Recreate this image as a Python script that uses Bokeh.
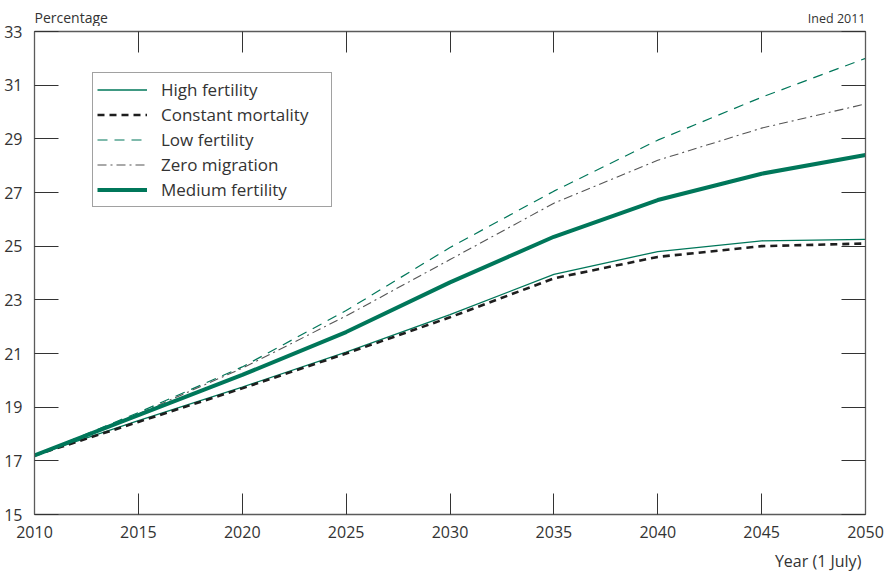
from bokeh.plotting import figure
from bokeh.layouts import column
from bokeh.models import (Range1d, LinearAxis, FixedTicker, Legend, LegendItem)
from bokeh.core.properties import value
from bokeh.embed import file_html
from bokeh.resources import INLINE

years = [2010, 2015, 2020, 2025, 2030, 2035, 2040, 2045, 2050]
high_fertility = [17.2, 18.5, 19.75, 21.05, 22.45, 23.95, 24.8, 25.2, 25.25]
constant_mortality = [17.2, 18.45, 19.7, 21.0, 22.35, 23.8, 24.6, 25.0, 25.1]
low_fertility = [17.2, 18.8, 20.5, 22.6, 24.95, 27.05, 28.95, 30.55, 32.0]
zero_migration = [17.2, 18.75, 20.45, 22.4, 24.5, 26.6, 28.2, 29.4, 30.3]
medium_fertility = [17.2, 18.7, 20.2, 21.8, 23.65, 25.35, 26.72, 27.7, 28.4]

x_ticks = [2010, 2015, 2020, 2025, 2030, 2035, 2040, 2045, 2050]
y_ticks = [15, 17, 19, 21, 23, 25, 27, 29, 31, 33]

FONT = "Open Sans"
GREEN = "#00775a"
AXIS = "#5a5a5a"
TEXT = "#333333"
W = 889
BL, BR = 34, 24


def strip(height, margin):
    f = figure(width=W, height=height, output_backend="svg", toolbar_location=None,
               x_range=Range1d(2010, 2050), y_range=Range1d(0, 1),
               x_axis_location=None, y_axis_location=None,
               min_border_left=BL, min_border_right=BR, min_border_top=0, min_border_bottom=0,
               margin=margin)
    f.outline_line_color = None
    f.xgrid.visible = False
    f.ygrid.visible = False
    f.background_fill_color = None
    f.border_fill_color = None
    return f


# --- header strip: "Percentage" and "Ined 2011" ---
head = strip(26, (0, 0, -12, 0))
head.text(x=[2010], y=[0.35], text=["Percentage"], text_font=value(FONT), text_font_size="14px",
          text_color=TEXT, text_align="left", text_baseline="middle")
head.text(x=[2050], y=[0.32], text=["Ined 2011"], text_font=value(FONT), text_font_size="12.5px",
          text_color=TEXT, text_align="right", text_baseline="middle")

# --- main chart ---
p = figure(width=W, height=535, output_backend="svg", toolbar_location=None,
           x_range=head.x_range, y_range=Range1d(15, 33),
           x_axis_location=None, y_axis_location=None,
           min_border_left=BL, min_border_right=BR, min_border_top=17, min_border_bottom=35)
p.outline_line_color = None
p.xgrid.visible = False
p.ygrid.visible = False
p.border_fill_color = None
p.background_fill_color = "white"


def style_axis(ax, ticks, labels=True, tick_len=22):
    ax.ticker = FixedTicker(ticks=ticks)
    ax.axis_line_color = AXIS
    ax.axis_line_width = 1.3
    ax.major_tick_in = tick_len
    ax.major_tick_out = 0
    ax.major_tick_line_color = "#333333"
    ax.major_tick_line_width = 1
    ax.minor_tick_line_color = None
    if labels:
        ax.major_label_text_font = FONT
        ax.major_label_text_font_size = "16px"
        ax.major_label_text_color = TEXT
    else:
        ax.major_label_text_color = None
        ax.major_label_text_font_size = "1px"
        ax.major_label_standoff = 0


left = LinearAxis()
style_axis(left, y_ticks, True, 24)
left.major_label_standoff = 12
p.add_layout(left, "left")

right = LinearAxis()
style_axis(right, y_ticks, False, 24)
p.add_layout(right, "right")

bottom = LinearAxis()
style_axis(bottom, x_ticks, True, 21)
bottom.major_label_standoff = 11
p.add_layout(bottom, "below")

top = LinearAxis()
style_axis(top, x_ticks, False, 21)
p.add_layout(top, "above")

r_high = p.line(years, high_fertility, line_color=GREEN, line_width=1.3)
r_cm = p.line(years, constant_mortality, line_color="#1e1e1e", line_width=2.6, line_dash="7 5")
r_low = p.line(years, low_fertility, line_color=GREEN, line_width=1.2, line_dash="10 7")
r_zero = p.line(years, zero_migration, line_color="#555555", line_width=1.1, line_dash="9 4 2 4")
r_med = p.line(years, medium_fertility, line_color=GREEN, line_width=4)

legend = Legend(items=[
    LegendItem(label="High fertility", renderers=[r_high]),
    LegendItem(label="Constant mortality", renderers=[r_cm]),
    LegendItem(label="Low fertility", renderers=[r_low]),
    LegendItem(label="Zero migration", renderers=[r_zero]),
    LegendItem(label="Medium fertility", renderers=[r_med]),
], location=(58, 307))
legend.border_line_color = "#444444"
legend.border_line_width = 1
legend.background_fill_color = "white"
legend.background_fill_alpha = 1
legend.label_text_font = FONT
legend.label_text_font_size = "17px"
legend.label_text_color = TEXT
legend.glyph_width = 50
legend.glyph_height = 25
legend.label_height = 25
legend.label_standoff = 14
legend.label_width = 166
legend.spacing = 0
legend.padding = 4
legend.margin = 0
p.add_layout(legend, "center")

# --- footer strip: x axis title ---
foot = strip(22, (0, 0, 0, 0))
foot.x_range = head.x_range
foot.text(x=[2049.8], y=[0.5], text=["Year (1 July)"], text_font=value(FONT), text_font_size="16px",
          text_color=TEXT, text_align="right", text_baseline="middle")

layout = column(head, p, foot, spacing=0)
open("out.html", "w").write(file_html(layout, INLINE))
